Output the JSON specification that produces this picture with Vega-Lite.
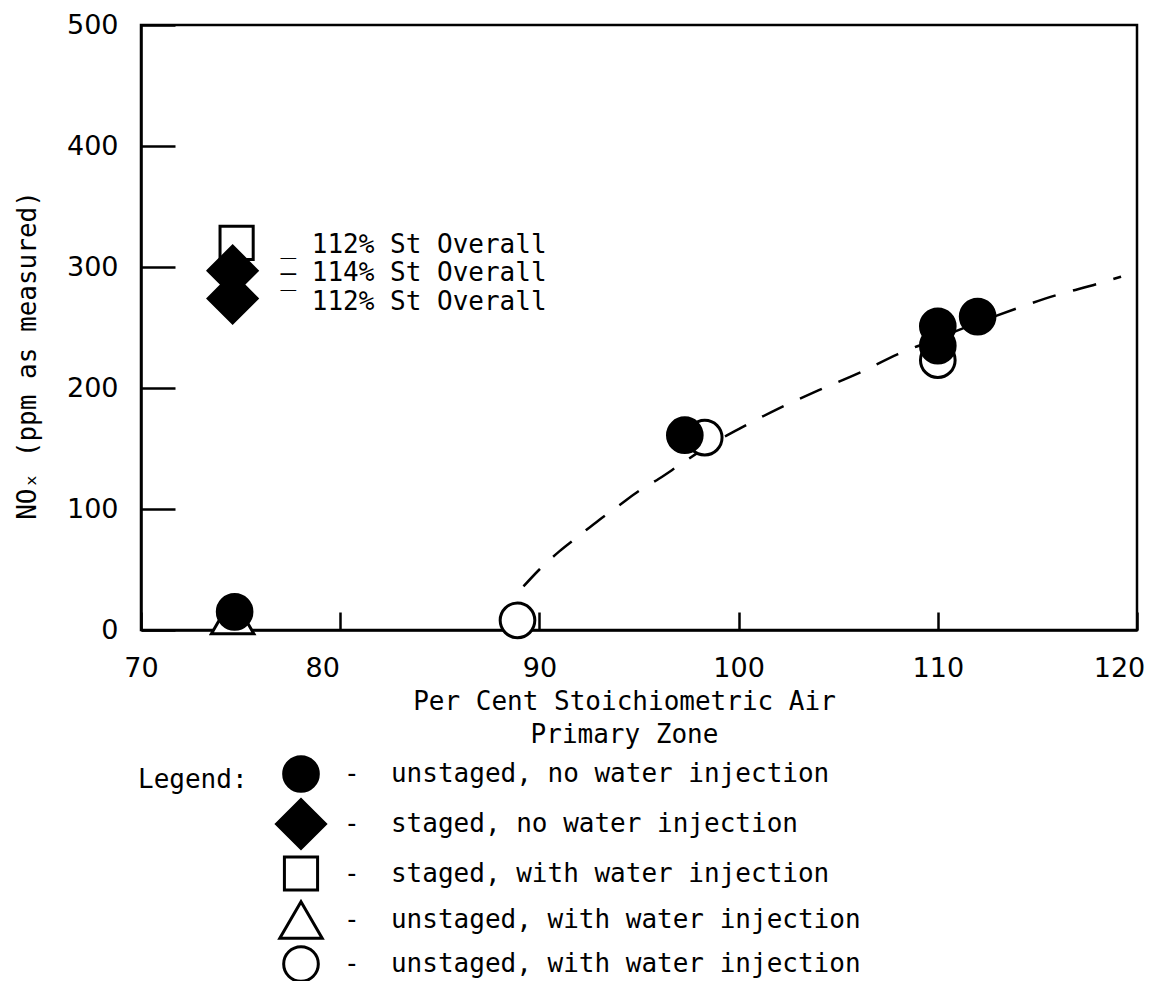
{
  "$schema": "https://vega.github.io/schema/vega-lite/v6.json",
  "width": 996,
  "height": 605,
  "autosize": {"type": "none"},
  "padding": {"left": 141, "top": 25, "right": 20, "bottom": 351},
  "background": "white",
  "config": {
    "view": {"stroke": "black", "strokeWidth": 2.5},
    "font": "DejaVu Sans Mono"
  },
  "datasets": {
    "points": [
      {"x": 74.6, "y": 12, "cat": "D"},
      {"x": 88.9, "y": 8, "cat": "E"},
      {"x": 98.3, "y": 159, "cat": "E"},
      {"x": 110.0, "y": 223, "cat": "E"},
      {"x": 74.8, "y": 320, "cat": "C"},
      {"x": 74.7, "y": 15, "cat": "A"},
      {"x": 97.3, "y": 161, "cat": "A"},
      {"x": 110.0, "y": 251, "cat": "A"},
      {"x": 110.0, "y": 235, "cat": "A"},
      {"x": 112.0, "y": 259, "cat": "A"},
      {"x": 74.6, "y": 297, "cat": "B"},
      {"x": 74.6, "y": 274, "cat": "B"}
    ],
    "curve": [
      {"x": 89.2, "y": 36},
      {"x": 90.0, "y": 50},
      {"x": 91.0, "y": 65},
      {"x": 92.0, "y": 78},
      {"x": 93.0, "y": 91},
      {"x": 94.0, "y": 103},
      {"x": 95.0, "y": 115},
      {"x": 96.0, "y": 125},
      {"x": 97.0, "y": 136},
      {"x": 98.0, "y": 147},
      {"x": 99.0, "y": 157},
      {"x": 100.0, "y": 166},
      {"x": 102.0, "y": 183},
      {"x": 104.0, "y": 198},
      {"x": 106.0, "y": 212},
      {"x": 108.0, "y": 228},
      {"x": 110.0, "y": 241},
      {"x": 112.0, "y": 254},
      {"x": 114.0, "y": 266},
      {"x": 116.0, "y": 277},
      {"x": 118.0, "y": 286},
      {"x": 119.2, "y": 292}
    ],
    "notes": [
      {"x": 77.0, "y": 318, "label": "_ 112% St Overall"},
      {"x": 77.0, "y": 295, "label": "— 114% St Overall"},
      {"x": 77.0, "y": 271, "label": "‾ 112% St Overall"}
    ]
  },
  "encoding": {
    "x": {
      "field": "x",
      "type": "quantitative",
      "scale": {"domain": [70, 120], "nice": false, "zero": false},
      "axis": {
        "values": [70, 80, 90, 100, 110, 120],
        "grid": false,
        "tickSize": -18,
        "tickWidth": 2.5,
        "tickColor": "black",
        "domainColor": "black",
        "domainWidth": 2.5,
        "labelPadding": 43,
        "labelFlush": false,
        "labelFont": "DejaVu Sans",
        "labelFontSize": 27,
        "labelColor": "black",
        "labelOffset": {"condition": {"test": "datum.value == 80 || datum.value == 120", "value": -18}, "value": 0},
        "title": ["Per Cent Stoichiometric Air", "Primary Zone"],
        "titleFont": "DejaVu Sans Mono",
        "titleFontSize": 26,
        "titleFontWeight": "normal",
        "titleColor": "black",
        "titleX": 483,
        "titleY": 58,
        "titleBaseline": "top",
        "titleLineHeight": 33
      }
    },
    "y": {
      "field": "y",
      "type": "quantitative",
      "scale": {"domain": [0, 500], "nice": false, "zero": true},
      "axis": {
        "values": [0, 100, 200, 300, 400, 500],
        "grid": false,
        "tickSize": -34,
        "tickWidth": 2.5,
        "tickColor": "black",
        "domainColor": "black",
        "domainWidth": 2.5,
        "labelPadding": 57,
        "labelFont": "DejaVu Sans",
        "labelFontSize": 27,
        "labelColor": "black",
        "title": "NOₓ (ppm as measured)",
        "titleFont": "DejaVu Sans Mono",
        "titleFontSize": 26,
        "titleFontWeight": "normal",
        "titleColor": "black",
        "titleAngle": 270,
        "titleAlign": "center",
        "titleBaseline": "middle",
        "titleX": -114,
        "titleY": 330
      }
    }
  },
  "layer": [
    {
      "data": {"name": "curve"},
      "mark": {"type": "line", "color": "black", "strokeWidth": 2.5, "strokeDash": [24, 18], "interpolate": "monotone"},
      "encoding": {}
    },
    {
      "data": {"name": "points"},
      "mark": {"type": "point", "filled": true, "stroke": "black", "strokeWidth": 3, "opacity": 1},
      "encoding": {
        "shape": {
          "field": "cat",
          "type": "nominal",
          "scale": {"domain": ["A", "B", "C", "D", "E"], "range": ["circle", "diamond", "square", "triangle-up", "circle"]},
          "legend": {
            "orient": "none",
            "legendX": -3,
            "legendY": 730,
            "title": "Legend:",
            "titleOrient": "left",
            "titleAnchor": "start",
            "titleBaseline": "line-top",
            "titleLineHeight": 50,
            "titleFont": "DejaVu Sans Mono",
            "titleFontSize": 26,
            "titleFontWeight": "normal",
            "titleColor": "black",
            "titlePadding": 27,
            "labelFont": "DejaVu Sans Mono",
            "labelFontSize": 26,
            "labelColor": "black",
            "labelLimit": 0,
            "labelOffset": 17,
            "rowPadding": -6,
            "symbolStrokeColor": "black",
            "symbolStrokeWidth": 3,
            "symbolOpacity": 1,
            "labelExpr": "{'A':'-\u00a0\u00a0unstaged, no water injection','B':'-\u00a0\u00a0staged, no water injection','C':'-\u00a0\u00a0staged, with water injection','D':'-\u00a0\u00a0unstaged, with water injection','E':'-\u00a0\u00a0unstaged, with water injection'}[datum.value]"
          }
        },
        "fill": {
          "field": "cat",
          "type": "nominal",
          "scale": {"domain": ["A", "B", "C", "D", "E"], "range": ["black", "black", "white", "white", "white"]}
        },
        "size": {
          "field": "cat",
          "type": "nominal",
          "scale": {"type": "ordinal", "domain": ["A", "B", "C", "D", "E"], "range": [1200, 2400, 1100, 1800, 1200]}
        }
      }
    },
    {
      "data": {"name": "notes"},
      "mark": {"type": "text", "align": "left", "baseline": "middle", "font": "DejaVu Sans Mono", "fontSize": 26, "color": "black"},
      "encoding": {"text": {"field": "label"}}
    }
  ]
}
